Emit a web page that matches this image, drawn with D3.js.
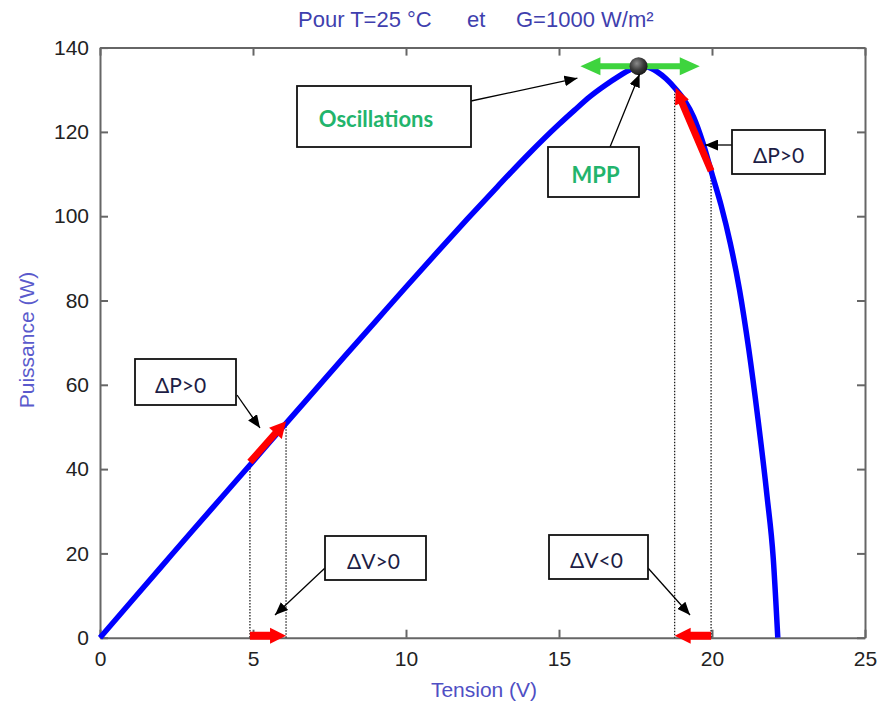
<!DOCTYPE html>
<html>
<head>
<meta charset="utf-8">
<script src="https://cdn.jsdelivr.net/npm/d3@7"></script>
<style>
  html, body { margin: 0; padding: 0; background: #fff; }
  svg { display: block; }
</style>
</head>
<body>
<svg id="chart" width="881" height="703"></svg>
<script>
// P-V characteristic of the PV module (T = 25 °C, G = 1000 W/m²)
const volts = [0, 1, 2, 3, 4, 5, 6, 7, 8, 9, 10, 11, 12, 13, 14, 15, 15.5, 16, 16.5, 17, 17.3, 17.6,
               17.9, 18.2, 18.5, 18.8, 19.1, 19.4, 19.7, 20, 20.3, 20.6, 20.9, 21.2, 21.5, 21.8, 22, 22.15];
const power = [0, 8.4, 16.8, 25.2, 33.5, 41.8, 50.2, 58.5, 66.8, 75, 83.2, 91.3, 99.3, 107.1, 114.7, 121.8, 125.1, 128.3, 131, 133.4, 134.7, 135.6,
               135.4, 134.3, 132.6, 130.3, 127.5, 123.5, 117.5, 110, 102.5, 93.5, 82.5, 68.5, 52, 33.5, 19, 0];

const xTicks = [0, 5, 10, 15, 20, 25];
const yTicks = [0, 20, 40, 60, 80, 100, 120, 140];

// Maximum power point and the perturbation steps of the P&O algorithm
const mppV = 17.6, mppP = 135.6;
const oscillation = [15.7, 19.6];      // voltage swing around the MPP
const stepLeft = [4.9, 6.08];          // ΔV>0 step on the rising side
const stepRight = [19.97, 18.78];      // ΔV<0 step on the falling side

const svg = d3.select("#chart");
const x = d3.scaleLinear().domain([0, 25]).range([100, 865]);
const y = d3.scaleLinear().domain([0, 140]).range([637.7, 47.6]);
const pAt = d3.scaleLinear().domain(volts).range(power);   // piecewise P(V)

const axisColor = "#666";
const tickFont = "'Liberation Sans', Arial, sans-serif";

// ---- axes (ticks pointing inward, box on all four sides)
function styleAxis(g) {
  g.selectAll(".domain").attr("stroke", axisColor).attr("stroke-width", 2);
  g.selectAll(".tick line").attr("stroke", axisColor).attr("stroke-width", 2);
  g.selectAll(".tick text").attr("fill", "#222").attr("font-family", tickFont).attr("font-size", 21);
}
svg.append("g").attr("transform", `translate(0,${y(0)})`)
  .call(d3.axisBottom(x).tickValues(xTicks).tickSize(-8).tickSizeOuter(0).tickPadding(13).tickFormat(d3.format("d")))
  .call(styleAxis);
svg.append("g").attr("transform", `translate(${x(0)},0)`)
  .call(d3.axisLeft(y).tickValues(yTicks).tickSize(-8).tickSizeOuter(0).tickPadding(11).tickFormat(d3.format("d")))
  .call(styleAxis);
svg.append("g").attr("transform", `translate(0,${y(140)})`)
  .call(d3.axisTop(x).tickValues(xTicks).tickSize(-8).tickSizeOuter(0).tickFormat(""))
  .call(styleAxis);
svg.append("g").attr("transform", `translate(${x(25)},0)`)
  .call(d3.axisRight(y).tickValues(yTicks).tickSize(-8).tickSizeOuter(0).tickFormat(""))
  .call(styleAxis);

// ---- title and axis labels
const title = svg.append("text").attr("y", 27).attr("font-family", tickFont).attr("font-size", 22).attr("fill", "#3f3fae");
title.append("tspan").attr("x", 298).text("Pour T=25 °C");
title.append("tspan").attr("x", 467).text("et");
title.append("tspan").attr("x", 516).text("G=1000 W/m²");

svg.append("text").attr("x", 484).attr("y", 697).attr("text-anchor", "middle")
  .attr("font-family", tickFont).attr("font-size", 21).attr("fill", "#4f4fc4").text("Tension (V)");
svg.append("text").attr("transform", "translate(34,340) rotate(-90)").attr("text-anchor", "middle")
  .attr("font-family", tickFont).attr("font-size", 21).attr("fill", "#5a5acc").text("Puissance (W)");

// ---- dotted guides from the perturbed operating points down to the axis
const guides = [...stepLeft, ...stepRight];
svg.append("g").selectAll("line").data(guides).join("line")
  .attr("x1", d => x(d)).attr("x2", d => x(d))
  .attr("y1", d => y(pAt(d))).attr("y2", y(0))
  .attr("stroke", "#111").attr("stroke-width", 1.2).attr("stroke-dasharray", "1.5,1.5");

// ---- P-V curve
const pts = volts.map((v, i) => [v, power[i]]);
svg.append("path").datum(pts)
  .attr("fill", "none").attr("stroke", "#0000ff").attr("stroke-width", 5.5).attr("stroke-linejoin", "round")
  .attr("d", d3.line().x(d => x(d[0])).y(d => y(d[1])).curve(d3.curveMonotoneX));

// ---- block arrow polygon helper (body + triangular head, optional double head)
function blockArrow(x1, y1, x2, y2, bw, hl, hw, both) {
  const dx = x2 - x1, dy = y2 - y1, L = Math.hypot(dx, dy);
  const ux = dx / L, uy = dy / L, nx = -uy, ny = ux;
  const P = (px, py, a, b) => [px + ux * a + nx * b, py + uy * a + ny * b];
  const pts = [];
  if (both) {
    pts.push([x1, y1], P(x1, y1, hl, hw / 2), P(x1, y1, hl, bw / 2));
  } else {
    pts.push(P(x1, y1, 0, bw / 2));
  }
  pts.push(P(x2, y2, -hl, bw / 2), P(x2, y2, -hl, hw / 2), [x2, y2], P(x2, y2, -hl, -hw / 2), P(x2, y2, -hl, -bw / 2));
  if (both) {
    pts.push(P(x1, y1, hl, -bw / 2), P(x1, y1, hl, -hw / 2));
  } else {
    pts.push(P(x1, y1, 0, -bw / 2));
  }
  return "M" + pts.map(p => p.join(",")).join("L") + "Z";
}

const red = "#ff0000";
// steps along the curve
svg.append("path").attr("fill", red)
  .attr("d", blockArrow(x(stepLeft[0]), y(pAt(stepLeft[0])) - 3, x(stepLeft[1]), y(pAt(stepLeft[1])) - 2, 7, 16, 17));
svg.append("path").attr("fill", red)
  .attr("d", blockArrow(x(stepRight[0]), y(pAt(stepRight[0])), x(stepRight[1]) + 1, y(pAt(stepRight[1])), 7, 16, 15));
// steps along the voltage axis
svg.append("path").attr("fill", red)
  .attr("d", blockArrow(x(stepLeft[0]), y(0) - 2, x(stepLeft[1]), y(0) - 2, 8, 16, 16));
svg.append("path").attr("fill", red)
  .attr("d", blockArrow(x(stepRight[0]), y(0) - 2, x(stepRight[1]), y(0) - 2, 8, 16, 16));

// oscillation around the MPP
svg.append("path").attr("fill", "#3ed43e")
  .attr("d", blockArrow(x(oscillation[0]), y(mppP), x(oscillation[1]), y(mppP), 6, 20, 18, true));

// MPP marker
const defs = svg.append("defs");
const grad = defs.append("radialGradient").attr("id", "mppGrad").attr("cx", "40%").attr("cy", "35%").attr("r", "65%");
grad.append("stop").attr("offset", "0%").attr("stop-color", "#8a8a8a");
grad.append("stop").attr("offset", "60%").attr("stop-color", "#3a3a3a");
grad.append("stop").attr("offset", "100%").attr("stop-color", "#1a1a1a");
svg.append("circle").attr("cx", x(mppV)).attr("cy", y(mppP)).attr("r", 9).attr("fill", "url(#mppGrad)");

// ---- annotation callouts
defs.append("marker").attr("id", "head").attr("viewBox", "0 0 12 10")
  .attr("refX", 12).attr("refY", 5).attr("markerWidth", 13).attr("markerHeight", 11)
  .attr("markerUnits", "userSpaceOnUse").attr("orient", "auto")
  .append("path").attr("d", "M0,0L12,5L0,10Z").attr("fill", "#000");

const notes = [
  { text: "Oscillations", bx: 297, by: 86, bw: 174, bh: 61, dx: -8, green: true, from: [471, 101], to: [x(oscillation[0]) - 3, y(mppP) + 12] },
  { text: "MPP", bx: 548, by: 147, bw: 91, bh: 50, dx: 2, green: true, from: [610, 147], to: [x(mppV) + 1, y(mppP) + 8] },
  { text: "ΔP>0", bx: 732, by: 130, bw: 93, bh: 44, dx: 0, from: [732, 145], to: [705, 145] },
  { text: "ΔP>0", bx: 135, by: 359, bw: 101, bh: 46, dx: -5, from: [237, 395], to: [260, 428] },
  { text: "ΔV>0", bx: 325, by: 536, bw: 101, bh: 44, dx: -2, from: [325, 568], to: [275, 615] },
  { text: "ΔV<0", bx: 549, by: 535, bw: 99, bh: 44, dx: -2, from: [648, 568], to: [690, 615] }
];

const callout = svg.append("g").selectAll("g").data(notes).join("g");
callout.append("line")
  .attr("x1", d => d.from[0]).attr("y1", d => d.from[1])
  .attr("x2", d => d.to[0]).attr("y2", d => d.to[1])
  .attr("stroke", "#000").attr("stroke-width", 1.3).attr("marker-end", "url(#head)");
callout.append("rect")
  .attr("x", d => d.bx).attr("y", d => d.by).attr("width", d => d.bw).attr("height", d => d.bh)
  .attr("fill", "#fff").attr("stroke", "#111").attr("stroke-width", 1.8);
callout.append("text")
  .attr("x", d => d.bx + d.bw / 2 + d.dx).attr("y", d => d.by + d.bh / 2 + 2)
  .attr("text-anchor", "middle").attr("dominant-baseline", "central")
  .attr("font-family", "Lato, 'Open Sans', sans-serif")
  .attr("font-size", d => d.green ? 22 : 21)
  .attr("font-weight", d => d.green ? 700 : 400)
  .attr("fill", d => d.green ? "#22b46c" : "#1d1d45")
  .text(d => d.text);
</script>
</body>
</html>
